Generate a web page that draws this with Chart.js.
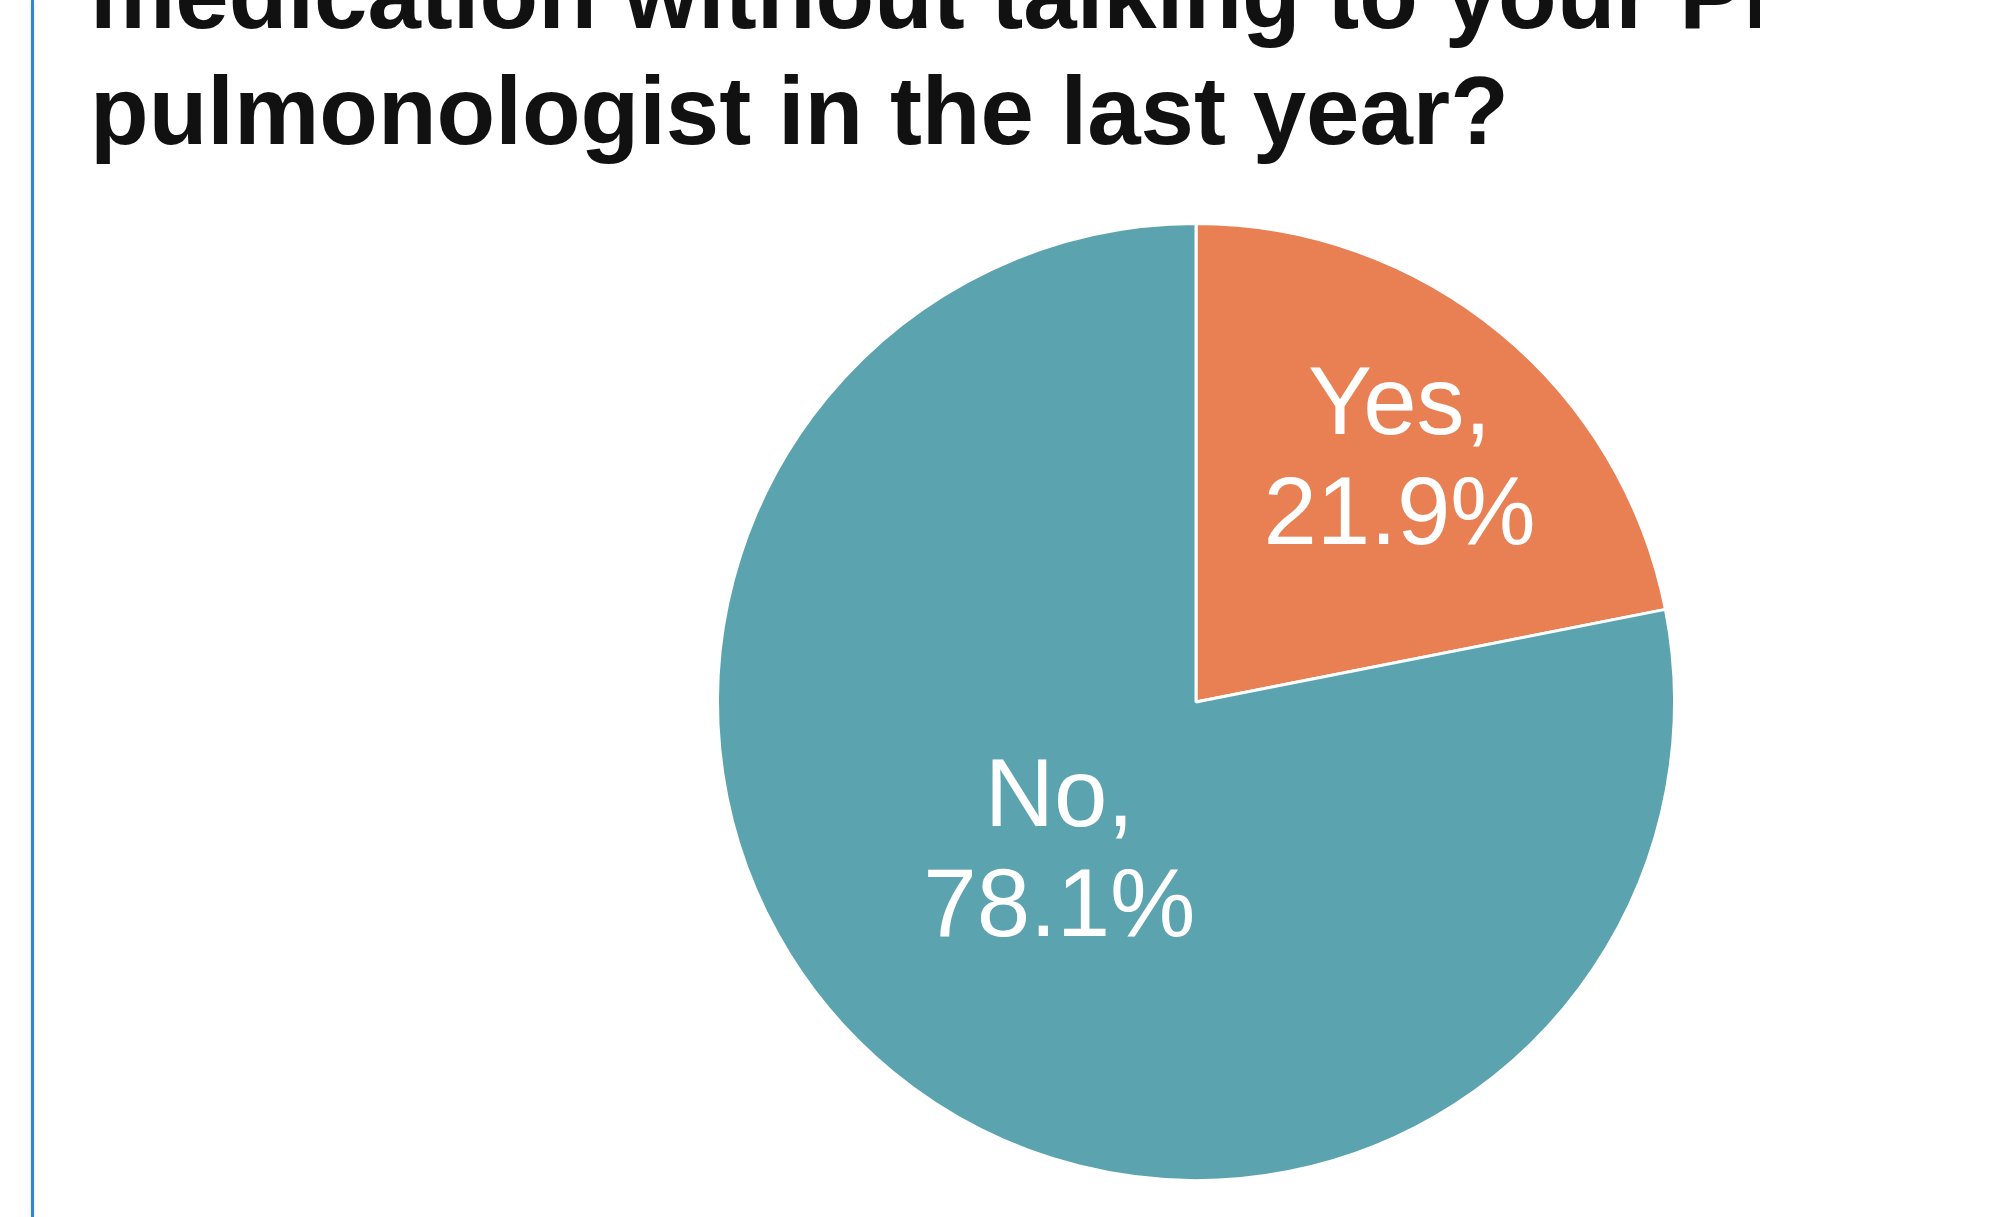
<!DOCTYPE html>
<html lang="en">
  <head>
    <meta charset="UTF-8">
    <title>Pie Chart</title>
    <script src="https://cdn.jsdelivr.net/npm/chart.js"></script>
    <style>
      html, body {
        margin: 0;
        padding: 0;
        background: #ffffff;
        overflow: hidden;
      }
      #wrap {
        position: relative;
        width: 2012px;
        height: 1217px;
      }
      #edge {
        position: absolute;
        left: 31px;
        top: 0;
        width: 3px;
        height: 1217px;
        background: #3a80d6;
        box-shadow: 0 0 4px rgba(0, 0, 0, 0.12);
      }
      canvas {
        position: absolute;
        left: 0;
        top: 0;
      }
    </style>
  </head>
  <body>
    <div id="wrap">
      <canvas id="pieChart" width="2012" height="1217"></canvas>
      <div id="edge"></div>
    </div>
    <script>
      var titleLines = ['medication without talking to your PH', 'pulmonologist in the last year?'];
      var answers = ['Yes', 'No'];
      var shares = [21.9, 78.1];
      var sliceColors = ['#e88054', '#5ba3af'];

      // draws the two title lines (top line is cut off by the page edge)
      var titlePlugin = {
        id: 'topTitle',
        afterDraw: function(chart) {
          var ctx = chart.ctx;
          ctx.save();
          ctx.beginPath();
          ctx.rect(0, 0, 1760, 200);
          ctx.clip();
          ctx.fillStyle = '#111111';
          ctx.font = 'bold 96px "Liberation Sans", Arial, sans-serif';
          ctx.textAlign = 'left';
          ctx.textBaseline = 'alphabetic';
          ctx.fillText(titleLines[0], 90, 28);
          ctx.fillText(titleLines[1], 90, 144);
          ctx.restore();
        }
      };

      // "Yes,\n21.9%" style labels inside the slices
      var labelPlugin = {
        id: 'sliceLabels',
        afterDatasetsDraw: function(chart) {
          var ctx = chart.ctx;
          var meta = chart.getDatasetMeta(0);
          var depth = [0.67, 0.43];
          var nudge = [[0, 8], [-6, -6]];
          ctx.save();
          ctx.fillStyle = '#ffffff';
          ctx.font = '96px "Liberation Sans", Arial, sans-serif';
          ctx.textAlign = 'center';
          ctx.textBaseline = 'middle';
          meta.data.forEach(function(arc, i) {
            var p = arc.getProps(['x', 'y', 'startAngle', 'endAngle', 'outerRadius'], true);
            var mid = (p.startAngle + p.endAngle) / 2;
            var r = p.outerRadius * depth[i];
            var cx = p.x + Math.cos(mid) * r + nudge[i][0];
            var cy = p.y + Math.sin(mid) * r + nudge[i][1];
            ctx.fillText(answers[i] + ',', cx, cy - 55);
            ctx.fillText(shares[i].toFixed(1) + '%', cx, cy + 55);
          });
          ctx.restore();
        }
      };

      var ctx = document.getElementById('pieChart').getContext('2d');
      var pieChart = new Chart(ctx, {
        type: 'pie',
        data: {
          labels: answers,
          datasets: [{
            data: shares,
            backgroundColor: sliceColors,
            borderColor: '#ffffff',
            borderWidth: 3
          }]
        },
        options: {
          responsive: false,
          animation: false,
          layout: {
            padding: { left: 716, right: 336, top: 221, bottom: 34 }
          },
          plugins: {
            legend: { display: false },
            tooltip: { enabled: false }
          }
        },
        plugins: [labelPlugin, titlePlugin]
      });
    </script>
  </body>
</html>
